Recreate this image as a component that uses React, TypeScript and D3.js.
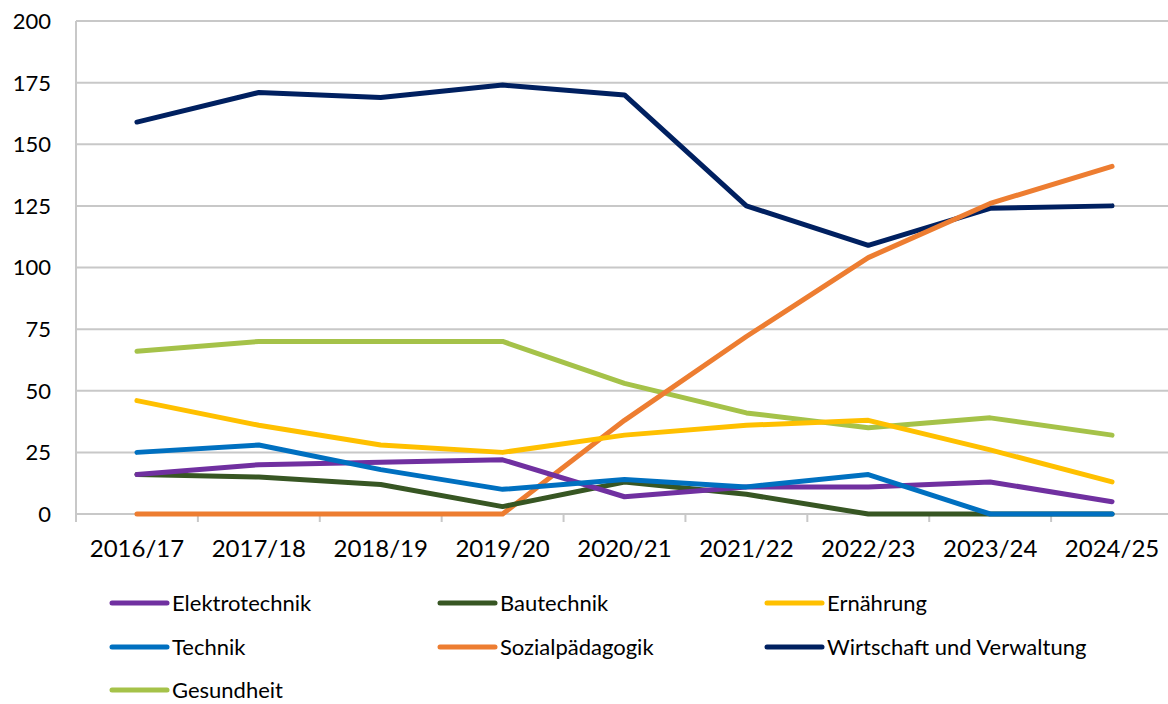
import React from 'react';
import * as d3 from 'd3';

const years = ['2016/17', '2017/18', '2018/19', '2019/20', '2020/21', '2021/22', '2022/23', '2023/24', '2024/25'];
const elektrotechnik = [16, 20, 21, 22, 7, 11, 11, 13, 5];
const bautechnik = [16, 15, 12, 3, 13, 8, 0, 0, 0];
const ernaehrung = [46, 36, 28, 25, 32, 36, 38, 26, 13];
const technik = [25, 28, 18, 10, 14, 11, 16, 0, 0];
const sozialpaedagogik = [0, 0, 0, 0, 38, 72, 104, 126, 141];
const wirtschaft = [159, 171, 169, 174, 170, 125, 109, 124, 125];
const gesundheit = [66, 70, 70, 70, 53, 41, 35, 39, 32];
const yTicks = [0, 25, 50, 75, 100, 125, 150, 175, 200];

const series = [
  {name: 'Elektrotechnik', values: elektrotechnik, color: '#7030A0'},
  {name: 'Bautechnik', values: bautechnik, color: '#375623'},
  {name: 'Ernährung', values: ernaehrung, color: '#FFC000'},
  {name: 'Technik', values: technik, color: '#0070C0'},
  {name: 'Sozialpädagogik', values: sozialpaedagogik, color: '#ED7D31'},
  {name: 'Wirtschaft und Verwaltung', values: wirtschaft, color: '#002060'},
  {name: 'Gesundheit', values: gesundheit, color: '#A5C249'},
];

// order the lines are painted in (last one on top)
const drawOrder = ['Gesundheit', 'Wirtschaft und Verwaltung', 'Sozialpädagogik', 'Ernährung', 'Bautechnik', 'Elektrotechnik', 'Technik'];

const W = 1168;
const H = 704;
const left = 76;
const right = 1173;
const top = 21;
const bottom = 514;
const font = 'Lato, "Open Sans", sans-serif';

export default function App() {
  const x = d3.scaleBand().domain(years).range([left, right]);
  const y = d3.scaleLinear().domain([0, 200]).range([bottom, top]);
  const cx = (yr: string) => (x(yr) as number) + x.bandwidth() / 2;
  const line = d3
    .line<number>()
    .x((_, i) => cx(years[i]))
    .y((d) => y(d));

  const legendCols = [112, 440, 767];
  const legendRows = [603, 647, 690];

  return (
    <svg width={W} height={H} style={{position: 'absolute', left: 0, top: 0, background: '#fff'}}>
      {/* gridlines */}
      {yTicks.map((t) => (
        <line key={t} x1={left} x2={W} y1={y(t)} y2={y(t)} stroke="#c8c8c8" strokeWidth={2} />
      ))}
      {/* y axis */}
      <line x1={left} x2={left} y1={top} y2={bottom + 8} stroke="#c8c8c8" strokeWidth={2} />
      {/* x ticks */}
      {years.map((yr) => (
        <line key={yr} x1={x(yr) as number} x2={x(yr) as number} y1={bottom} y2={bottom + 8} stroke="#c8c8c8" strokeWidth={2} />
      ))}
      {yTicks.map((t) => (
        <text key={t} x={51} y={y(t)} dy="0.36em" textAnchor="end" fontFamily={font} fontSize={22} fill="#000">
          {t}
        </text>
      ))}
      {years.map((yr) => (
        <text key={yr} x={cx(yr)} y={557} textAnchor="middle" fontFamily={font} fontSize={24} fill="#000">
          {yr}
        </text>
      ))}
      {drawOrder.map((n) => {
        const s = series.find((d) => d.name === n)!;
        return (
          <path
            key={n}
            d={line(s.values) as string}
            fill="none"
            stroke={s.color}
            strokeWidth={5}
            strokeLinejoin="round"
            strokeLinecap="round"
          />
        );
      })}
      {series.map((s, i) => {
        const lx = legendCols[i % 3];
        const ly = legendRows[Math.floor(i / 3)];
        return (
          <g key={s.name}>
            <line x1={lx} x2={lx + 55} y1={ly} y2={ly} stroke={s.color} strokeWidth={5} strokeLinecap="round" />
            <text x={lx + 60} y={ly} dy="0.36em" fontFamily={font} fontSize={22} fill="#000">
              {s.name}
            </text>
          </g>
        );
      })}
    </svg>
  );
}
